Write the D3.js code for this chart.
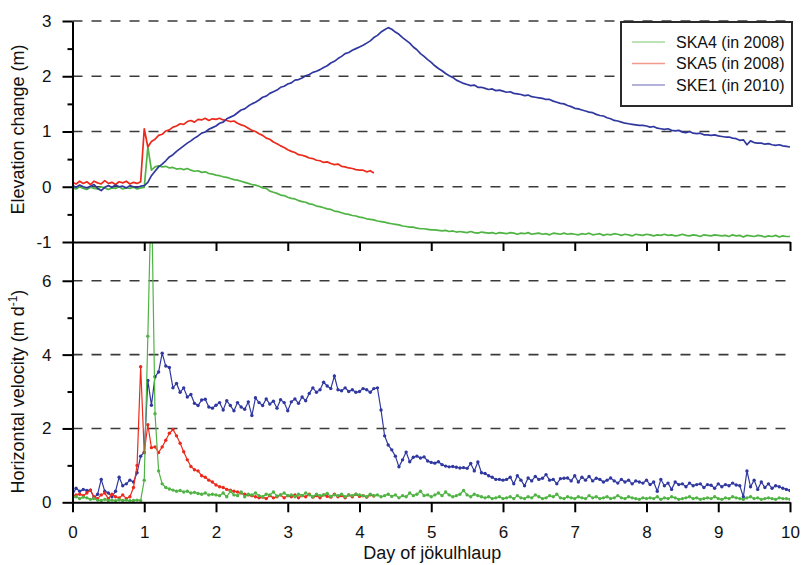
<!DOCTYPE html>
<html>
<head>
<meta charset="utf-8">
<script src="https://cdn.jsdelivr.net/npm/d3@7"></script>
<style>
  html, body { margin: 0; padding: 0; background: #fff; }
  svg { display: block; font-family: "Liberation Sans", Arial, sans-serif; }
  .axis path, .axis line { stroke: #000; stroke-width: 2; }
  .axis text { font-size: 17px; fill: #111; }
</style>
</head>
<body>
<svg id="chart" width="801" height="565"></svg>
<script>
// Samples every 0.05 day, starting at day 0.
const dayStep = 0.05;

// Elevation change (m), upper panel.
const ska4Elev = [
  -0.02, -0.04, 0.00, -0.03, -0.05, -0.01, -0.03, -0.04, 0.00, -0.02, -0.05, -0.02, -0.03, 0.00, -0.04, -0.02, -0.03, -0.01, -0.04, -0.02, -0.01,
  0.72, 0.30, 0.36, 0.38, 0.36, 0.37, 0.34, 0.35, 0.32, 0.33, 0.31, 0.33, 0.30, 0.28, 0.29, 0.26, 0.27, 0.24, 0.23, 0.21,
  0.20, 0.18, 0.17, 0.15, 0.13, 0.12, 0.10, 0.08, 0.06, 0.04, 0.03, 0.01, -0.02, -0.03, -0.08, -0.10, -0.12, -0.15, -0.16, -0.19,
  -0.21, -0.22, -0.25, -0.27, -0.28, -0.31, -0.32, -0.35, -0.36, -0.38, -0.40, -0.41, -0.44, -0.45, -0.47, -0.49, -0.50, -0.52, -0.53, -0.55,
  -0.56, -0.58, -0.59, -0.60, -0.62, -0.63, -0.64, -0.66, -0.67, -0.68, -0.69, -0.71, -0.72, -0.73, -0.73, -0.75, -0.76, -0.76, -0.77, -0.78,
  -0.78, -0.79, -0.80, -0.79, -0.81, -0.80, -0.82, -0.81, -0.82, -0.83, -0.81, -0.83, -0.84, -0.82, -0.83, -0.84, -0.83, -0.85, -0.83, -0.84,
  -0.85, -0.83, -0.84, -0.86, -0.84, -0.85, -0.83, -0.86, -0.85, -0.84, -0.86, -0.85, -0.87, -0.84, -0.85, -0.86, -0.84, -0.86, -0.85, -0.86,
  -0.87, -0.85, -0.86, -0.84, -0.87, -0.86, -0.85, -0.88, -0.86, -0.87, -0.85, -0.86, -0.88, -0.86, -0.87, -0.89, -0.86, -0.87, -0.88, -0.86,
  -0.87, -0.89, -0.87, -0.88, -0.86, -0.88, -0.87, -0.89, -0.88, -0.86, -0.88, -0.89, -0.87, -0.88, -0.90, -0.87, -0.88, -0.89, -0.87, -0.88,
  -0.89, -0.88, -0.90, -0.87, -0.89, -0.88, -0.91, -0.88, -0.89, -0.90, -0.88, -0.89, -0.91, -0.89, -0.90, -0.88, -0.91, -0.89, -0.90, -0.90
];

const ska5Elev = [
  0.08, 0.05, 0.10, 0.06, 0.09, 0.04, 0.10, 0.07, 0.05, 0.11, 0.06, 0.08, 0.04, 0.09, 0.07, 0.10, 0.05, 0.08, 0.06, 0.09, 1.05,
  0.72, 0.82, 0.86, 0.93, 0.95, 1.01, 1.03, 1.08, 1.10, 1.14, 1.13, 1.18, 1.20, 1.17, 1.22, 1.21, 1.24, 1.20, 1.23, 1.22,
  1.24, 1.21, 1.20, 1.18, 1.19, 1.15, 1.12, 1.10, 1.06, 1.02, 1.00, 0.96, 0.93, 0.88, 0.86, 0.81, 0.78, 0.74, 0.71, 0.67,
  0.64, 0.62, 0.58, 0.57, 0.55, 0.52, 0.51, 0.48, 0.47, 0.44, 0.45, 0.42, 0.40, 0.41, 0.37, 0.36, 0.34, 0.33, 0.31, 0.30, 0.30, 0.27, 0.29, 0.25
];

const ske1Elev = [
  0.02, -0.01, 0.03, 0.00, -0.02, 0.01, 0.04, -0.03, -0.07, -0.01, 0.02, -0.01, 0.03, 0.00, 0.01, -0.02, 0.02, 0.00, -0.01, 0.01, 0.02,
  0.08, 0.20, 0.28, 0.36, 0.41, 0.47, 0.54, 0.58, 0.64, 0.69, 0.74, 0.79, 0.83, 0.88, 0.92, 0.97, 0.99, 1.04, 1.07, 1.10,
  1.15, 1.17, 1.23, 1.26, 1.29, 1.34, 1.39, 1.41, 1.46, 1.50, 1.53, 1.57, 1.62, 1.64, 1.69, 1.72, 1.75, 1.80, 1.82, 1.86,
  1.88, 1.93, 1.94, 1.97, 2.01, 2.03, 2.07, 2.09, 2.12, 2.16, 2.19, 2.24, 2.27, 2.32, 2.36, 2.41, 2.43, 2.47, 2.50, 2.53,
  2.56, 2.60, 2.64, 2.70, 2.74, 2.80, 2.84, 2.88, 2.85, 2.80, 2.76, 2.70, 2.65, 2.60, 2.53, 2.48, 2.41, 2.36, 2.30, 2.25,
  2.19, 2.14, 2.10, 2.05, 2.01, 1.98, 1.93, 1.90, 1.87, 1.85, 1.83, 1.84, 1.80, 1.80, 1.78, 1.76, 1.77, 1.74, 1.75, 1.73,
  1.71, 1.72, 1.69, 1.68, 1.67, 1.65, 1.66, 1.63, 1.62, 1.61, 1.60, 1.58, 1.58, 1.55, 1.53, 1.51, 1.50, 1.47, 1.45, 1.42,
  1.41, 1.39, 1.37, 1.35, 1.34, 1.31, 1.29, 1.28, 1.25, 1.23, 1.20, 1.19, 1.17, 1.15, 1.14, 1.13, 1.12, 1.11, 1.11, 1.10,
  1.08, 1.09, 1.06, 1.05, 1.04, 1.05, 1.02, 1.01, 1.02, 0.99, 0.98, 1.00, 0.97, 0.96, 0.97, 0.94, 0.94, 0.93, 0.94, 0.92,
  0.91, 0.90, 0.90, 0.88, 0.87, 0.84, 0.85, 0.76, 0.83, 0.80, 0.79, 0.79, 0.77, 0.78, 0.76, 0.75, 0.76, 0.74, 0.73, 0.72
];

// Horizontal velocity (m/d), lower panel.
const ska4Vel = [
  0.12, 0.15, 0.10, 0.14, 0.12, 0.08, 0.10, 0.06, 0.05, 0.08, 0.05, 0.06, 0.04, 0.07, 0.05, 0.06, 0.04, 0.05, 0.06, 0.05, 0.60,
  4.50, 8.60, 2.40, 0.85, 0.50, 0.40, 0.36, 0.33, 0.30, 0.32, 0.28, 0.30, 0.25, 0.27, 0.24, 0.22, 0.25, 0.20, 0.22, 0.20,
  0.18, 0.25, 0.15, 0.30, 0.20, 0.18, 0.28, 0.15, 0.22, 0.20, 0.25, 0.18, 0.15, 0.22, 0.20, 0.28, 0.17, 0.20, 0.25, 0.18,
  0.20, 0.15, 0.22, 0.18, 0.25, 0.20, 0.15, 0.22, 0.18, 0.20, 0.24, 0.16, 0.20, 0.18, 0.22, 0.15, 0.20, 0.18, 0.22, 0.20,
  0.18, 0.15, 0.22, 0.18, 0.20, 0.15, 0.18, 0.22, 0.16, 0.20, 0.12, 0.18, 0.15, 0.25, 0.18, 0.22, 0.30, 0.18, 0.20, 0.15,
  0.20, 0.25, 0.18, 0.28, 0.20, 0.15, 0.18, 0.22, 0.32, 0.20, 0.15, 0.22, 0.18, 0.15, 0.12, 0.15, 0.10, 0.12, 0.15, 0.10,
  0.12, 0.15, 0.10, 0.18, 0.12, 0.10, 0.15, 0.12, 0.20, 0.15, 0.10, 0.12, 0.18, 0.15, 0.22, 0.12, 0.10, 0.15, 0.12, 0.10,
  0.15, 0.12, 0.10, 0.18, 0.12, 0.15, 0.10, 0.12, 0.15, 0.10, 0.12, 0.18, 0.12, 0.10, 0.15, 0.12, 0.10, 0.08, 0.12, 0.10,
  0.12, 0.10, 0.15, 0.08, 0.12, 0.10, 0.15, 0.12, 0.08, 0.10, 0.12, 0.15, 0.10, 0.12, 0.08, 0.10, 0.12, 0.10, 0.15, 0.10,
  0.08, 0.12, 0.10, 0.15, 0.12, 0.10, 0.08, 0.12, 0.15, 0.10, 0.12, 0.08, 0.10, 0.12, 0.10, 0.08, 0.12, 0.10, 0.10, 0.08
];

const ska5Vel = [
  0.15, 0.20, 0.22, 0.18, 0.25, 0.33, 0.15, 0.10, 0.20, 0.25, 0.10, 0.22, 0.15, 0.12, 0.20, 0.10, 0.15, 0.40, 1.00, 3.67, 1.35,
  2.10, 1.48, 1.50, 1.35, 1.50, 1.68, 1.87, 1.97, 1.80, 1.60, 1.37, 1.15, 0.97, 0.88, 0.85, 0.72, 0.68, 0.60, 0.55, 0.47,
  0.42, 0.40, 0.35, 0.33, 0.30, 0.28, 0.25, 0.22, 0.20, 0.18, 0.15, 0.12, 0.14, 0.10, 0.18, 0.12, 0.15, 0.20, 0.12, 0.18,
  0.15, 0.20, 0.12, 0.18, 0.15, 0.22, 0.14, 0.18, 0.12, 0.20, 0.16, 0.14, 0.22, 0.15, 0.18, 0.12, 0.20, 0.15, 0.22, 0.16, 0.18, 0.14, 0.20, 0.17
];

const ske1Vel = [
  0.20, 0.38, 0.30, 0.35, 0.32, 0.33, 0.12, 0.22, 0.62, 0.30, 0.25, 0.15, 0.30, 0.68, 0.45, 0.50, 0.60, 0.55, 0.80, 1.25, 1.35,
  3.30, 2.63, 3.40, 3.53, 4.04, 3.69, 3.65, 3.10, 3.22, 2.98, 3.10, 2.85, 2.92, 2.68, 2.62, 2.77, 2.79, 2.58, 2.55, 2.63,
  2.70, 2.50, 2.75, 2.62, 2.48, 2.70, 2.58, 2.52, 2.72, 2.35, 2.83, 2.70, 2.62, 2.80, 2.66, 2.74, 2.55, 2.78, 2.70, 2.48,
  2.72, 2.80, 2.68, 2.85, 2.75, 2.95, 3.10, 2.98, 3.05, 3.25, 3.15, 3.08, 3.42, 3.05, 3.02, 3.10, 3.00, 3.05, 2.98, 3.00,
  3.08, 3.05, 2.98, 3.08, 3.10, 2.50, 1.80, 1.55, 1.42, 1.25, 0.96, 1.15, 1.36, 1.10, 1.22, 1.25, 1.20, 1.23, 1.12, 1.08,
  1.06, 1.10, 1.02, 0.98, 0.96, 0.97, 0.95, 0.93, 0.94, 0.92, 1.05, 0.85, 1.09, 0.80, 0.78, 0.72, 0.68, 0.62, 0.62, 0.60,
  0.62, 0.68, 0.50, 0.72, 0.60, 0.45, 0.66, 0.58, 0.70, 0.62, 0.65, 0.75, 0.60, 0.62, 0.50, 0.64, 0.65, 0.66, 0.58, 0.72,
  0.55, 0.68, 0.60, 0.70, 0.58, 0.65, 0.62, 0.55, 0.60, 0.66, 0.58, 0.52, 0.62, 0.55, 0.60, 0.50, 0.58, 0.55, 0.52, 0.60,
  0.48, 0.55, 0.30, 0.62, 0.45, 0.52, 0.35, 0.55, 0.48, 0.50, 0.42, 0.52, 0.45, 0.48, 0.50, 0.40, 0.48, 0.46, 0.38, 0.50,
  0.42, 0.48, 0.45, 0.52, 0.47, 0.45, 0.15, 0.85, 0.42, 0.60, 0.35, 0.55, 0.40, 0.50, 0.38, 0.45, 0.42, 0.38, 0.35, 0.32
];

// Ticks and labels.
const dayTicks      = [0, 1, 2, 3, 4, 5, 6, 7, 8, 9, 10];
const elevTicks     = [-1, 0, 1, 2, 3];
const elevMinor     = [-0.5, 0.5, 1.5, 2.5];
const elevGrid      = [0, 1, 2, 3];
const velTicks      = [0, 2, 4, 6];
const velMinor      = [1, 3, 5];
const velGrid       = [2, 4, 6];
const seriesNames   = ['SKA4 (in 2008)', 'SKA5 (in 2008)', 'SKE1 (in 2010)'];
const seriesColors  = ['#4fb443', '#ec2a1c', '#3038a0'];
const legendColors  = ['#a6d99e', '#f29a8e', '#9a98cf'];

const svg = d3.select('#chart');

// Scales.
const x     = d3.scaleLinear().domain([0, 10]).range([72.5, 790]);
const yElev = d3.scaleLinear().domain([-1, 3]).range([242, 21]);
const yVel  = d3.scaleLinear().domain([0, 7.05]).range([502.3, 242]);

const toPoints = values => values.map((v, i) => [i * dayStep, v]);

// Clip for the lower panel, the SKA4 spike runs off the top.
svg.append('clipPath').attr('id', 'clipVel')
  .append('rect')
    .attr('x', x(0)).attr('y', yVel(7.05))
    .attr('width', x(10) - x(0)).attr('height', yVel(0) - yVel(7.05) + 4);

// Dashed grid lines.
const grid = svg.append('g')
  .attr('stroke', '#3a3a3a')
  .attr('stroke-width', 1.6)
  .attr('stroke-dasharray', '10,9');

grid.selectAll('.ge').data(elevGrid).enter().append('line')
  .attr('x1', x(0)).attr('x2', x(10))
  .attr('y1', d => yElev(d)).attr('y2', d => yElev(d));

grid.selectAll('.gv').data(velGrid).enter().append('line')
  .attr('x1', x(0)).attr('x2', x(10))
  .attr('y1', d => yVel(d)).attr('y2', d => yVel(d));

// Upper panel lines.
const lineElev = d3.line().x(d => x(d[0])).y(d => yElev(d[1]));
const elevSeries = [ska4Elev, ska5Elev, ske1Elev];

svg.append('g').selectAll('path')
  .data(elevSeries)
  .enter().append('path')
    .attr('fill', 'none')
    .attr('stroke', (d, i) => seriesColors[i])
    .attr('stroke-width', 1.7)
    .attr('stroke-linejoin', 'round')
    .attr('d', d => lineElev(toPoints(d)));

// Lower panel lines with dots.
const lineVel = d3.line().x(d => x(d[0])).y(d => yVel(d[1]));
const velSeries = [
  { values: ske1Vel, color: seriesColors[2] },
  { values: ska5Vel, color: seriesColors[1] },
  { values: ska4Vel, color: seriesColors[0] }
];

const velG = svg.append('g').attr('clip-path', 'url(#clipVel)');

velSeries.forEach(s => {
  const pts = toPoints(s.values);
  velG.append('path')
    .attr('fill', 'none')
    .attr('stroke', s.color)
    .attr('stroke-width', 1.2)
    .attr('d', lineVel(pts));
  velG.selectAll(null)
    .data(pts)
    .enter().append('circle')
      .attr('cx', d => x(d[0]))
      .attr('cy', d => yVel(d[1]))
      .attr('r', 1.7)
      .attr('fill', s.color);
});

// Axes.
const fmt = d => String(d);

svg.append('g').attr('class', 'axis')
  .attr('transform', `translate(${x(0)},0)`)
  .call(d3.axisLeft(yElev).tickValues(elevTicks).tickFormat(fmt).tickSize(10).tickSizeOuter(0).tickPadding(11));
svg.append('g').attr('class', 'axis')
  .attr('transform', `translate(${x(0)},0)`)
  .call(d3.axisLeft(yElev).tickValues(elevMinor).tickFormat('').tickSize(5).tickSizeOuter(0))
  .call(g => g.select('.domain').remove());

svg.append('g').attr('class', 'axis')
  .attr('transform', `translate(${x(0)},0)`)
  .call(d3.axisLeft(yVel).tickValues(velTicks).tickFormat(fmt).tickSize(10).tickSizeOuter(0).tickPadding(11));
svg.append('g').attr('class', 'axis')
  .attr('transform', `translate(${x(0)},0)`)
  .call(d3.axisLeft(yVel).tickValues(velMinor).tickFormat('').tickSize(5).tickSizeOuter(0))
  .call(g => g.select('.domain').remove());

// Separator between the panels.
svg.append('g').attr('class', 'axis')
  .attr('transform', `translate(0,${yElev(-1)})`)
  .call(d3.axisBottom(x).tickValues(dayTicks).tickFormat('').tickSize(9).tickSizeOuter(0));

svg.append('g').attr('class', 'axis')
  .attr('transform', `translate(0,${yVel(0)})`)
  .call(d3.axisBottom(x).tickValues(dayTicks).tickFormat(fmt).tickSize(10).tickSizeOuter(0).tickPadding(14));

// Axis titles.
svg.append('text')
  .attr('transform', `translate(24,${(yElev(3) + yElev(-1)) / 2 - 2}) rotate(-90)`)
  .attr('text-anchor', 'middle')
  .attr('font-size', 18)
  .attr('fill', '#111')
  .text('Elevation change (m)');

const velTitle = svg.append('text')
  .attr('transform', `translate(24,${(yVel(6) + yVel(0)) / 2}) rotate(-90)`)
  .attr('text-anchor', 'middle')
  .attr('font-size', 18)
  .attr('fill', '#111');
velTitle.append('tspan').text('Horizontal velocity (m d');
velTitle.append('tspan').attr('dy', -7).attr('font-size', 12).text('-1');
velTitle.append('tspan').attr('dy', 7).text(')');

svg.append('text')
  .attr('x', (x(0) + x(10)) / 2 + 1)
  .attr('y', 559)
  .attr('text-anchor', 'middle')
  .attr('font-size', 18)
  .attr('fill', '#111')
  .text('Day of jökulhlaup');

// Legend.
const legend = svg.append('g').attr('transform', 'translate(621,22)');
legend.append('rect')
  .attr('width', 171).attr('height', 84)
  .attr('fill', '#fff')
  .attr('stroke', '#2a2a2a')
  .attr('stroke-width', 2);

const rows = legend.selectAll('.row')
  .data(seriesNames)
  .enter().append('g')
    .attr('transform', (d, i) => `translate(0,${20 + i * 21.5})`);

rows.append('line')
  .attr('x1', 11).attr('x2', 44)
  .attr('stroke', (d, i) => legendColors[i])
  .attr('stroke-width', 1.5);

rows.append('text')
  .attr('x', 55)
  .attr('dy', '0.35em')
  .attr('font-size', 16)
  .attr('fill', '#111')
  .text(d => d);
</script>
</body>
</html>
